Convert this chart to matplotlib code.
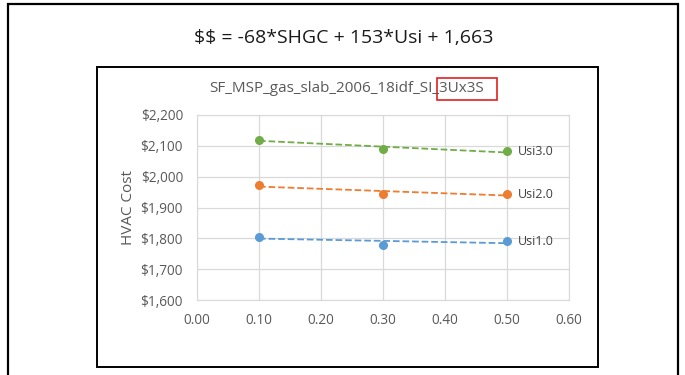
import matplotlib
matplotlib.use("Agg")
import matplotlib.pyplot as plt
import numpy as np
from matplotlib.patches import Rectangle
from matplotlib.ticker import FuncFormatter, MultipleLocator

plt.rcParams['text.parse_math'] = False
plt.rcParams['font.family'] = ['Open Sans', 'DejaVu Sans']

shgc = [0.1, 0.3, 0.5]
series_names = ["Usi1.0", "Usi2.0", "Usi3.0"]
usi1 = [1805, 1780, 1790]
usi2 = [1972, 1945, 1943]
usi3 = [2120, 2090, 2082]
colors = ["#5B9BD5", "#ED7D31", "#70AD47"]

equation = "$$ = -68*SHGC + 153*Usi + 1,663"
chart_title = "SF_MSP_gas_slab_2006_18idf_SI_3Ux3S"

W, H = 685, 375
fig = plt.figure(figsize=(W / 100, H / 100), dpi=100)

def fx(px):
    return px / W

def fy(py):
    return 1 - py / H

# outer frame
fig.patches.append(Rectangle((fx(8), fy(380)), fx(678) - fx(8), fy(4) - fy(380),
                             transform=fig.transFigure, fill=False, edgecolor='black', linewidth=1.6))
# inner chart box
fig.patches.append(Rectangle((fx(97), fy(367)), fx(598) - fx(97), fy(67) - fy(367),
                             transform=fig.transFigure, fill=False, edgecolor='black', linewidth=1.4))

fig.text(fx(344), fy(38), equation, ha='center', va='center', fontsize=14, color='#1a1a1a')
fig.text(fx(347), fy(89), chart_title, ha='center', va='center', fontsize=11, color='#595959')
fig.patches.append(Rectangle((fx(437), fy(100)), fx(497) - fx(437), fy(78) - fy(100),
                             transform=fig.transFigure, fill=False, edgecolor='#E02020', linewidth=1.2))

ax = fig.add_axes([fx(197), fy(300), fx(569) - fx(197), fy(115) - fy(300)])
for name, vals, c in zip(series_names, [usi1, usi2, usi3], colors):
    x = np.array(shgc)
    y = np.array(vals)
    ax.plot(x, y, 'o', color=c, markersize=5.5, zorder=3)
    m, b = np.polyfit(x, y, 1)
    ax.plot([x[0], x[-1]], [m * x[0] + b, m * x[-1] + b], '--', color=c, linewidth=1.3, zorder=2)
    ax.annotate(name, (x[-1], y[-1]), xytext=(8, 0), textcoords='offset points',
                ha='left', va='center', fontsize=9, color='#404040')

ax.set_xlim(0, 0.6)
ax.set_ylim(1600, 2200)
ax.xaxis.set_major_locator(MultipleLocator(0.1))
ax.yaxis.set_major_locator(MultipleLocator(100))
ax.xaxis.set_major_formatter(FuncFormatter(lambda v, p: f"{v:.2f}"))
ax.yaxis.set_major_formatter(FuncFormatter(lambda v, p: f"${v:,.0f}"))
ax.grid(True, color='#D9D9D9', linewidth=0.9)
ax.set_axisbelow(True)
for s in ax.spines.values():
    s.set_color('#D9D9D9')
ax.tick_params(length=0, labelsize=9.8, colors='#595959')
ax.tick_params(axis='y', pad=10)
ax.tick_params(axis='x', pad=9)
ax.set_ylabel("HVAC Cost", fontsize=11, color='#595959', labelpad=3)

fig.savefig("out.png", dpi=100)
